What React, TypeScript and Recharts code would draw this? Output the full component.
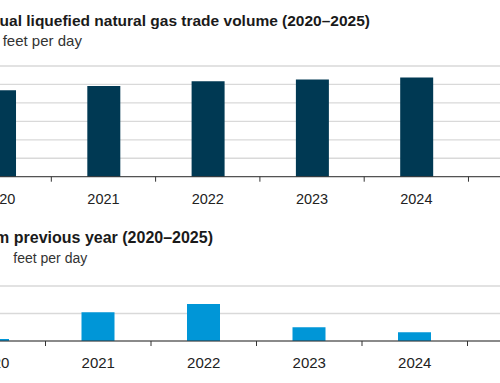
import React from 'react';
import { BarChart, Bar, XAxis, YAxis, CartesianGrid } from 'recharts';

const years = ['2020', '2021', '2022', '2023', '2024', '2025'];
// billion cubic feet per day
const tradeVolume = [46.9, 49.1, 51.8, 52.7, 53.7, 55.4];
const annualChange = [0.15, 2.1, 2.7, 1.0, 0.63, 1.7];
const volumeTicks = [0, 10, 20, 30, 40, 50, 60];
const changeTicks = [0, 2, 4];

const FONT = '"Liberation Sans", Arial, Helvetica, sans-serif';

const volumeData = years.map((year, i) => ({ year, value: tradeVolume[i] }));
const changeData = years.map((year, i) => ({ year, value: annualChange[i] }));

function makeTick(band: number, fontSize: number) {
  return function YearTick(props: any) {
    const { x, y, payload } = props;
    const edge = x + band / 2;
    return (
      <g>
        <line x1={edge} x2={edge} y1={y - 5} y2={y} stroke="#333" strokeWidth={1} />
        <text x={x} y={y + 22} textAnchor="middle" fontSize={fontSize} fill="#222" fontFamily={FONT}>
          {payload.value}
        </text>
      </g>
    );
  };
}

function Panel({ data, band, left, top, plotHeight, max, ticks, color, tickFont }: any) {
  const width = band * years.length;
  return (
    <div style={{ position: 'absolute', left, top: top - 10 }}>
      <BarChart
        width={width}
        height={plotHeight + 10 + 40}
        data={data}
        margin={{ top: 10, right: 0, left: 0, bottom: 0 }}
        barSize={33}
      >
        <CartesianGrid vertical={false} stroke="#d9d9d9" strokeWidth={1.3} />
        <YAxis hide domain={[0, max]} ticks={ticks} interval={0} />
        <XAxis
          dataKey="year"
          height={40}
          axisLine={{ stroke: '#333', strokeWidth: 1 }}
          tickLine={false}
          tickSize={5}
          tickMargin={0}
          interval={0}
          tick={makeTick(band, tickFont)}
        />
        <Bar dataKey="value" fill={color} isAnimationActive={false} />
      </BarChart>
    </div>
  );
}

export default function App() {
  return (
    <div
      style={{
        position: 'absolute',
        left: 0,
        top: 0,
        width: 500,
        height: 383,
        overflow: 'hidden',
        background: '#fff',
        fontFamily: FONT,
      }}
    >
      <svg width={500} height={383} style={{ position: 'absolute', left: 0, top: 0 }}>
        <text x={370} y={25.7} textAnchor="end" fontSize={15.5} fontWeight="bold" fill="#1a1a1a" fontFamily={FONT}>
          Global annual liquefied natural gas trade volume (2020–2025)
        </text>
        <text x={-2} y={45.7} textAnchor="end" fontSize={15} fill="#333" fontFamily={FONT}>
          billion cubic
        </text>
        <text x={2.7} y={45.7} fontSize={15} fill="#333" fontFamily={FONT}>
          feet per day
        </text>
        <text x={213} y={242.5} textAnchor="end" fontSize={16} fontWeight="bold" fill="#1a1a1a" fontFamily={FONT}>
          Annual change from previous year (2020–2025)
        </text>
        <text x={-2} y={263} textAnchor="end" fontSize={14} fill="#333" fontFamily={FONT}>
          billion cubic
        </text>
        <text x={13.3} y={263} fontSize={14} fill="#333" fontFamily={FONT}>
          feet per day
        </text>
      </svg>
      <Panel
        data={volumeData}
        band={104.3}
        left={-52.75}
        top={66}
        plotHeight={110.7}
        max={60}
        ticks={volumeTicks}
        color="#003953"
        tickFont={14.5}
      />
      <Panel
        data={changeData}
        band={105.5}
        left={-59.95}
        top={286}
        plotHeight={55}
        max={4}
        ticks={changeTicks}
        color="#0096d7"
        tickFont={15}
      />
    </div>
  );
}
